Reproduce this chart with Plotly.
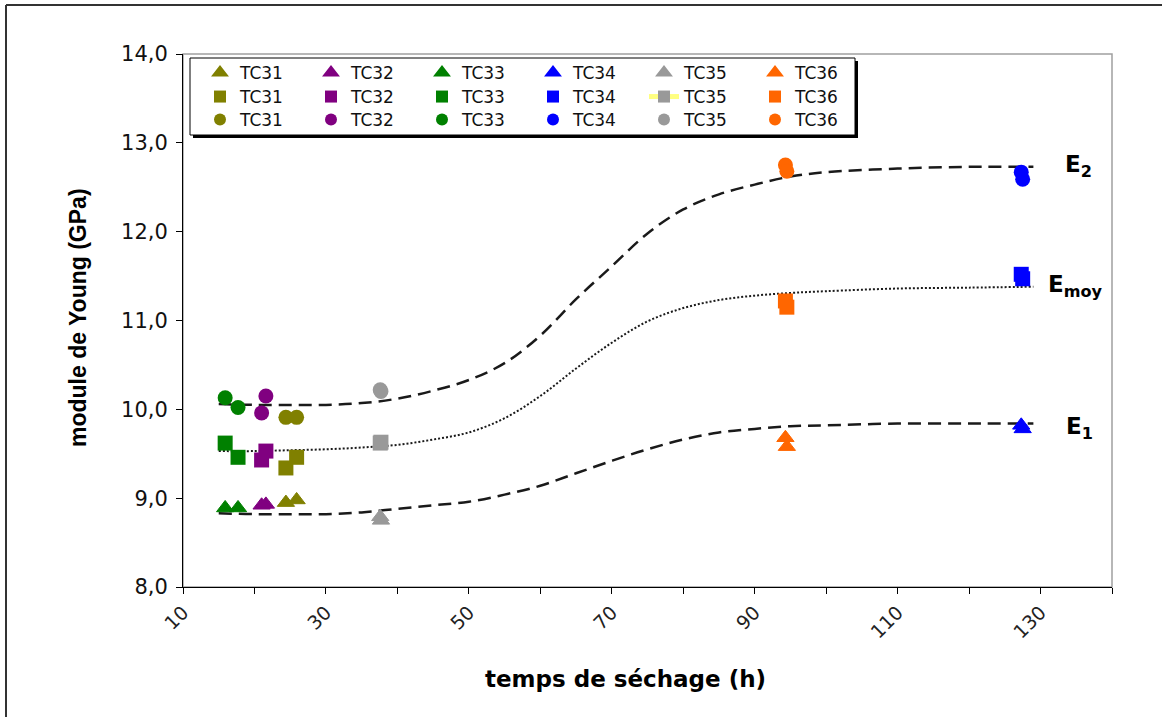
import plotly.graph_objects as go

# ---------------- data ----------------
specimens = ["TC31", "TC32", "TC33", "TC34", "TC35", "TC36"]
colors = ["#808000", "#800080", "#008000", "#0000FF", "#999999", "#FF6600"]

# drying time (h) of the two measurements of each specimen
tc31_t = [24.4, 25.9]
tc32_t = [21.0, 21.6]
tc33_t = [15.9, 17.7]
tc34_t = [127.3, 127.5]
tc35_t = [37.6, 37.7]
tc36_t = [94.3, 94.5]

# E1 (triangles)
tc31_e1 = [8.95, 8.98]
tc32_e1 = [8.92, 8.93]
tc33_e1 = [8.89, 8.89]
tc34_e1 = [9.82, 9.78]
tc35_e1 = [8.79, 8.75]
tc36_e1 = [9.68, 9.58]

# Emoy (squares)
tc31_emoy = [9.34, 9.46]
tc32_emoy = [9.43, 9.53]
tc33_emoy = [9.62, 9.46]
tc34_emoy = [11.52, 11.47]
tc35_emoy = [9.62, 9.63]
tc36_emoy = [11.22, 11.15]

# E2 (circles)
tc31_e2 = [9.91, 9.91]
tc32_e2 = [9.96, 10.15]
tc33_e2 = [10.13, 10.02]
tc34_e2 = [12.67, 12.59]
tc35_e2 = [10.22, 10.20]
tc36_e2 = [12.75, 12.68]

# fitted trend curves
fit_t = [15, 20, 25, 30, 35, 40, 45, 50, 55, 60, 65, 70, 75, 80, 85, 90, 95, 100, 110, 120, 129]
fit_e2 = [10.06, 10.05, 10.05, 10.05, 10.07, 10.12, 10.21, 10.33, 10.52, 10.83, 11.24, 11.61,
          11.98, 12.25, 12.42, 12.53, 12.62, 12.67, 12.71, 12.73, 12.73]
fit_emoy = [9.53, 9.53, 9.54, 9.55, 9.57, 9.60, 9.66, 9.74, 9.90, 10.15, 10.46, 10.75,
            10.99, 11.14, 11.23, 11.28, 11.31, 11.33, 11.36, 11.37, 11.38]
fit_e1 = [8.83, 8.82, 8.82, 8.82, 8.84, 8.88, 8.92, 8.96, 9.04, 9.14, 9.28, 9.42,
          9.55, 9.66, 9.74, 9.78, 9.81, 9.82, 9.84, 9.84, 9.84]

x_tick_vals = [10, 30, 50, 70, 90, 110, 130]
x_tick_text = ["10", "30", "50", "70", "90", "110", "130"]

times = [tc31_t, tc32_t, tc33_t, tc34_t, tc35_t, tc36_t]
e1_vals = [tc31_e1, tc32_e1, tc33_e1, tc34_e1, tc35_e1, tc36_e1]
emoy_vals = [tc31_emoy, tc32_emoy, tc33_emoy, tc34_emoy, tc35_emoy, tc36_emoy]
e2_vals = [tc31_e2, tc32_e2, tc33_e2, tc34_e2, tc35_e2, tc36_e2]

# ---------------- layout geometry ----------------
W, H = 1162, 717
PL, PR, PT, PB = 183, 1112, 54, 587


def px(x):
    return (x - PL) / (PR - PL)


def py(y):
    return (PB - y) / (PB - PT)


fig = go.Figure()

# trend curves
fig.add_trace(go.Scatter(x=fit_t, y=fit_e2, mode="lines", showlegend=False, hoverinfo="skip",
                         line=dict(color="#1a1a1a", width=2.5, dash="13px,7px", shape="spline")))
fig.add_trace(go.Scatter(x=fit_t, y=fit_emoy, mode="lines", showlegend=False, hoverinfo="skip",
                         line=dict(color="#1a1a1a", width=2, dash="2px,2px", shape="spline")))
fig.add_trace(go.Scatter(x=fit_t, y=fit_e1, mode="lines", showlegend=False, hoverinfo="skip",
                         line=dict(color="#1a1a1a", width=2.5, dash="13px,7px", shape="spline")))

# triangles -> legend 1
for name, col, t, v in zip(specimens, colors, times, e1_vals):
    fig.add_trace(go.Scatter(x=t, y=v, mode="markers", name=name, legend="legend",
                             marker=dict(symbol="triangle-up", size=15, color=col,
                                         line=dict(width=1, color=col))))
# squares -> legend 2
for name, col, t, v in zip(specimens, colors, times, emoy_vals):
    if name == "TC35":
        fig.add_trace(go.Scatter(x=t, y=v, mode="lines+markers", name=name, legend="legend2",
                                 line=dict(color="#FFFF80", width=1),
                                 marker=dict(symbol="square", size=15, color=col)))
    else:
        fig.add_trace(go.Scatter(x=t, y=v, mode="markers", name=name, legend="legend2",
                                 marker=dict(symbol="square", size=15, color=col)))
# circles -> legend 3
for name, col, t, v in zip(specimens, colors, times, e2_vals):
    fig.add_trace(go.Scatter(x=t, y=v, mode="markers", name=name, legend="legend3",
                             marker=dict(symbol="circle", size=15, color=col)))

leg_common = dict(orientation="h", bgcolor="rgba(0,0,0,0)", borderwidth=0,
                  font=dict(family="DejaVu Sans", size=17, color="#111111"),
                  entrywidth=66, entrywidthmode="pixels", xanchor="left", yanchor="middle",
                  itemsizing="constant", tracegroupgap=0, x=px(200))

shapes = [
    # outer frame (left and top only)
    dict(type="line", xref="paper", yref="paper", x0=px(6), x1=px(6), y0=py(5), y1=py(717),
         line=dict(color="#333333", width=2)),
    dict(type="line", xref="paper", yref="paper", x0=px(6), x1=px(1162), y0=py(5), y1=py(5),
         line=dict(color="#333333", width=2)),
    # plot area border
    dict(type="rect", xref="paper", yref="paper", x0=0, x1=1, y0=0, y1=1,
         line=dict(color="#A0A0A0", width=1.5), layer="below"),
    # legend box shadow + box
    dict(type="rect", xref="paper", yref="paper", x0=px(193), x1=px(858), y0=py(138), y1=py(61),
         fillcolor="#000000", line=dict(width=0), layer="below"),
    dict(type="rect", xref="paper", yref="paper", x0=px(190), x1=px(855), y0=py(135), y1=py(58),
         fillcolor="#FFFFFF", line=dict(color="#000000", width=1), layer="below"),
]

annotations = [
    dict(text="<b>module de Young (GPa)</b>", xref="paper", yref="paper", x=px(78), y=py(318),
         textangle=-90, showarrow=False, font=dict(family="Liberation Sans", size=23, color="#000000"),
         xanchor="center", yanchor="middle"),
    dict(text="<b>temps de séchage (h)</b>", xref="paper", yref="paper", x=px(625), y=py(679),
         showarrow=False, font=dict(family="DejaVu Sans", size=23, color="#000000"),
         xanchor="center", yanchor="middle"),
    dict(text="<b>E<sub>2</sub></b>", xref="paper", yref="paper", x=px(1063), y=py(166),
         showarrow=False, font=dict(family="DejaVu Sans", size=23, color="#000000"),
         xanchor="left", yanchor="middle"),
    dict(text="<b>E<sub>moy</sub></b>", xref="paper", yref="paper", x=px(1046), y=py(286),
         showarrow=False, font=dict(family="DejaVu Sans", size=23, color="#000000"),
         xanchor="left", yanchor="middle"),
    dict(text="<b>E<sub>1</sub></b>", xref="paper", yref="paper", x=px(1064), y=py(428),
         showarrow=False, font=dict(family="DejaVu Sans", size=23, color="#000000"),
         xanchor="left", yanchor="middle"),
]

fig.update_layout(
    width=W, height=H,
    margin=dict(l=PL, r=W - PR, t=PT, b=H - PB, pad=0),
    paper_bgcolor="white", plot_bgcolor="white",
    separators=",.",
    showlegend=True,
    legend=dict(**leg_common, y=py(73)),
    legend2=dict(**leg_common, y=py(97)),
    legend3=dict(**leg_common, y=py(120)),
    shapes=shapes,
    annotations=annotations,
    xaxis=dict(range=[10, 140], tickvals=x_tick_vals, ticktext=x_tick_text, tickangle=-45,
               ticks="outside", ticklen=6, tickcolor="#000000", showline=True, linecolor="#000000",
               linewidth=1, showgrid=False, zeroline=False,
               tickfont=dict(family="DejaVu Sans", size=19, color="#222222"),
               minor=dict(dtick=10, tick0=10, ticks="outside", ticklen=6, tickcolor="#000000",
                          showgrid=False)),
    yaxis=dict(range=[8, 14], dtick=1, tick0=8, tickformat=".1f", ticks="outside", ticklen=6,
               tickcolor="#000000", showline=True, linecolor="#000000", linewidth=1,
               showgrid=False, zeroline=False, ticklabelstandoff=4,
               tickfont=dict(family="DejaVu Sans", size=21, color="#111111")),
)

fig.write_html("out.html", config={"displayModeBar": False},
               post_script="document.body.style.margin='0px';document.body.style.overflow='hidden';")
